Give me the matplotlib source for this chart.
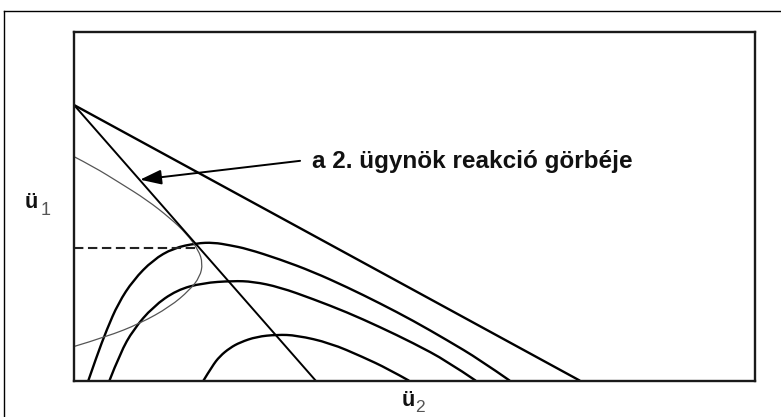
import matplotlib
matplotlib.use("Agg")
import matplotlib.pyplot as plt
from matplotlib.lines import Line2D
from matplotlib.path import Path
from matplotlib.patches import PathPatch

# ---- data (axis units: x 0..10, y 0..5) ----
apex_y = 3.95
budget_x_end = 7.43
reaction_x_end = 3.55

curve1_x = [0.21, 0.33, 0.48, 0.65, 0.87, 1.16, 1.46, 1.80, 2.05, 2.29, 2.54, 3.02, 3.51, 4.01, 4.49, 4.98, 5.48, 5.96, 6.40]
curve1_y = [0.00, 0.34, 0.73, 1.11, 1.44, 1.73, 1.90, 1.97, 1.98, 1.94, 1.89, 1.74, 1.56, 1.34, 1.11, 0.86, 0.58, 0.30, 0.00]

curve2_x = [0.52, 0.68, 0.87, 1.16, 1.51, 1.89, 2.33, 2.63, 3.02, 3.51, 4.01, 4.49, 4.98, 5.48, 5.90]
curve2_y = [0.00, 0.40, 0.73, 1.06, 1.30, 1.40, 1.43, 1.42, 1.34, 1.17, 0.98, 0.77, 0.54, 0.28, 0.00]

curve3_x = [1.90, 2.03, 2.14, 2.29, 2.44, 2.68, 2.98, 3.27, 3.76, 4.24, 4.61, 4.92]
curve3_y = [0.00, 0.21, 0.35, 0.47, 0.55, 0.63, 0.66, 0.65, 0.54, 0.34, 0.17, 0.00]

thin_x = [0.00, 0.28, 0.68, 1.07, 1.41, 1.65, 1.83, 1.89, 1.85, 1.70, 1.41, 0.97, 0.48, 0.00]
thin_y = [3.21, 3.07, 2.83, 2.59, 2.33, 2.11, 1.87, 1.68, 1.49, 1.30, 1.06, 0.82, 0.63, 0.49]

dashed_y = 1.90
dashed_x_end = 1.84

arrow_tip = (0.97, 2.88)
arrow_tail = (3.32, 3.15)
annot_text = "a 2. ügynök reakció görbéje"
annot_pos = (3.50, 3.05)


def smooth_path(xs, ys):
    """Quadratic B-spline style path through the read points (drawn by matplotlib)."""
    pts = list(zip(xs, ys))
    verts = [pts[0]]
    codes = [Path.MOVETO]
    n = len(pts)
    for i in range(1, n - 1):
        ctrl = pts[i]
        if i < n - 2:
            end = ((pts[i][0] + pts[i + 1][0]) / 2, (pts[i][1] + pts[i + 1][1]) / 2)
        else:
            end = pts[n - 1]
        verts += [ctrl, end]
        codes += [Path.CURVE3, Path.CURVE3]
    return Path(verts, codes)


W, H = 781, 417
fig = plt.figure(figsize=(W / 100, H / 100), dpi=100)
fig.patch.set_facecolor("white")

ax = fig.add_axes([74 / W, (H - 380.7) / H, (755 - 74) / W, (380.7 - 31.7) / H])
ax.set_xlim(0, 10)
ax.set_ylim(0, 5)
ax.set_xticks([])
ax.set_yticks([])
for s in ax.spines.values():
    s.set_linewidth(1.7)
    s.set_color("#1a1a1a")

lw = 1.7
ax.plot([0, budget_x_end], [apex_y, 0], color="black", lw=lw, solid_capstyle="butt")
ax.plot([0, reaction_x_end], [apex_y, 0], color="black", lw=1.4, solid_capstyle="butt")
for cx, cy in [(curve1_x, curve1_y), (curve2_x, curve2_y), (curve3_x, curve3_y)]:
    ax.add_patch(PathPatch(smooth_path(cx, cy), fill=False, edgecolor="black", lw=lw))
ax.add_patch(PathPatch(smooth_path(thin_x, thin_y), fill=False, edgecolor="#555555", lw=0.9))
ax.plot([0, dashed_x_end], [dashed_y, dashed_y], color="#222222", lw=1.5, dashes=(4.5, 2.2))

ax.annotate("", xy=arrow_tip, xytext=arrow_tail,
            arrowprops=dict(arrowstyle="-|>,head_length=1.3,head_width=0.45",
                            mutation_scale=10, color="black", lw=1.4,
                            shrinkA=0, shrinkB=0))
ax.text(annot_pos[0], annot_pos[1], annot_text, fontsize=17.5, fontweight="bold",
        family=["Liberation Sans", "DejaVu Sans"], ha="left", va="baseline", color="#111111")

# axis labels
fam = ["Liberation Sans", "DejaVu Sans"]
fig.text(25 / W, (H - 208.5) / H, "ü", fontsize=15.5, fontweight="bold", family=fam, color="#111111")
fig.text(40.5 / W, (H - 215) / H, "1", fontsize=13, family=fam, color="#555555")
fig.text(401.5 / W, (H - 406) / H, "ü", fontsize=15.5, fontweight="bold", family=fam, color="#111111")
fig.text(415 / W, (H - 412.5) / H, "2", fontsize=12.5, family=fam, color="#555555")

# outer frame (top and left)
fig.add_artist(Line2D([4.3 / W, 1], [(H - 10.7) / H, (H - 10.7) / H], color="black", lw=1))
fig.add_artist(Line2D([4.3 / W, 4.3 / W], [(H - 10.7) / H, 0], color="black", lw=1))

fig.savefig("out.png", dpi=100, facecolor="white")
